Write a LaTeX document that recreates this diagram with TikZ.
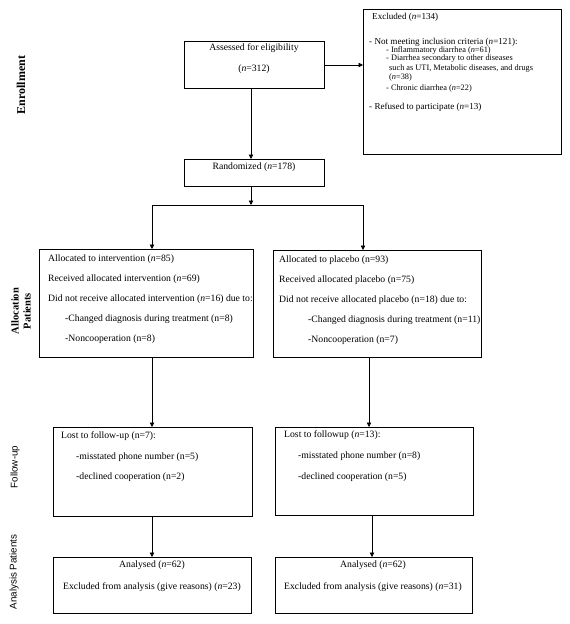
\documentclass[tikz,border=0pt]{standalone}
\usepackage{fontspec}
\setmainfont{Liberation Serif}
\newfontfamily\labsans{Liberation Sans}
\usetikzlibrary{arrows.meta,calc}
\begin{document}
\begin{tikzpicture}[x=1pt,y=-1pt,
  box/.style={draw,line width=0.8pt,inner sep=0pt,anchor=north west},
  txt/.style={inner sep=0pt,anchor=west,font=\fontsize{9.7}{11}\selectfont,text height=7pt,text depth=2.5pt},
  ctxt/.style={txt,anchor=center},
  etxt/.style={txt,font=\fontsize{9.1}{10}\selectfont},
  small/.style={txt,font=\fontsize{8.3}{9}\selectfont,text height=6pt,text depth=2pt},
  arr/.style={line width=0.8pt,-{Triangle[length=4.5pt,width=4.5pt]}},
  ln/.style={line width=0.8pt},
  side/.style={rotate=90,inner sep=0pt,align=center}]
\useasboundingbox (0,0) rectangle (570,624);

% boxes
\node[box,minimum width=140pt,minimum height=47pt] (ass) at (184,41) {};
\node[box,minimum width=198pt,minimum height=145pt] (exc) at (363,9) {};
\node[box,minimum width=140pt,minimum height=27pt] (rand) at (184,159) {};
\node[box,minimum width=214pt,minimum height=108pt] (al) at (39,249) {};
\node[box,minimum width=208pt,minimum height=107pt] (ar) at (273,250) {};
\node[box,minimum width=199pt,minimum height=89pt] (fl) at (53,427) {};
\node[box,minimum width=198pt,minimum height=88pt] (fr) at (275,427) {};
\node[box,minimum width=198pt,minimum height=56pt] (nl) at (53,557) {};
\node[box,minimum width=197pt,minimum height=56pt] (nr) at (275,557) {};

% texts: assessed / randomized
\node[ctxt] (ass1) at (254,48) {Assessed for eligibility};
\node[ctxt] (ass2) at (254,69) {(\textit{n}=312)};
\node[ctxt] (rand1) at (254,167) {Randomized (\textit{n}=178)};

% excluded
\node[etxt] (e1) at (372,17) {Excluded (\textit{n}=134)};
\node[etxt] (e2) at (369,42) {- Not meeting inclusion criteria (\textit{n}=121):};
\node[small] (e3) at (386,50) {- Inflammatory diarrhea (\textit{n}=61)};
\node[small] (e4) at (386,58.5) {- Diarrhea secondary to other diseases};
\node[small] (e5) at (389,68) {such as UTI, Metabolic diseases, and drugs};
\node[small] (e6) at (389,77) {(\textit{n}=38)};
\node[small] (e7) at (386,88) {- Chronic diarrhea (\textit{n}=22)};
\node[etxt] (e8) at (369,107) {- Refused to participate (\textit{n}=13)};

% allocation left
\node[txt] (al1) at (48,259) {Allocated to intervention (\textit{n}=85)};
\node[txt] (al2) at (48,279) {Received allocated intervention (\textit{n}=69)};
\node[txt] (al3) at (48,299) {Did not receive allocated intervention (\textit{n}=16) due to:};
\node[txt] (al4) at (65,319) {-Changed diagnosis during treatment (n=8)};
\node[txt] (al5) at (65,339) {-Noncooperation (n=8)};

% allocation right
\node[txt] (ar1) at (279,260) {Allocated to placebo (n=93)};
\node[txt] (ar2) at (279,280) {Received allocated placebo (n=75)};
\node[txt] (ar3) at (279,300) {Did not receive allocated placebo (n=18) due to:};
\node[txt] (ar4) at (308,320) {-Changed diagnosis during treatment (n=11)};
\node[txt] (ar5) at (308,340) {-Noncooperation (n=7)};

% follow-up
\node[txt] (fl1) at (61,436) {Lost to follow-up (n=7):};
\node[txt] (fl2) at (76,457) {-misstated phone number (n=5)};
\node[txt] (fl3) at (76,477) {-declined cooperation (n=2)};
\node[txt] (fr1) at (284,435) {Lost to followup (\textit{n}=13):};
\node[txt] (fr2) at (298,456) {-misstated phone number (n=8)};
\node[txt] (fr3) at (298,477) {-declined cooperation (n=5)};

% analysis
\node[ctxt] (nl1) at (152,565) {Analysed (\textit{n}=62)};
\node[ctxt] (nl2) at (152,587) {Excluded from analysis (give reasons) (\textit{n}=23)};
\node[ctxt] (nr1) at (373,565) {Analysed (\textit{n}=62)};
\node[ctxt] (nr2) at (373,587) {Excluded from analysis (give reasons) (\textit{n}=31)};

% side labels
\node[side,font=\fontsize{12}{13}\selectfont\bfseries] (s1) at (21,85) {Enrollment};
\node[side,font=\fontsize{10.5}{12}\selectfont\bfseries] (s2) at (21,311) {Allocation\\Patients};
\node[side,font=\fontsize{9.8}{11}\labsans] (s3) at (15,467) {Follow-up};
\node[side,font=\fontsize{9.8}{11}\labsans] (s4) at (14,572) {Analysis Patients};

% connectors
\coordinate (split) at (251,205);
\coordinate (sl) at (152,205);
\coordinate (sr) at (363,205);
\draw[arr] (ass.east |- 0,65) -- (exc.west |- 0,65);
\draw[arr] (ass.south -| split) -- (rand.north -| split);
\draw[arr] (rand.south -| split) -- (split);
\draw[ln] (sl) -- (sr);
\draw[arr] (sl) -- (sl |- al.north);
\draw[arr] (sr) -- (sr |- ar.north);
\coordinate (cl) at (152,0);
\coordinate (cr) at (369,0);
\draw[arr] (al.south -| cl) -- (fl.north -| cl);
\draw[arr] (ar.south -| cr) -- (fr.north -| cr);
\coordinate (dr) at (372,0);
\draw[arr] (fl.south -| cl) -- (nl.north -| cl);
\draw[arr] (fr.south -| dr) -- (nr.north -| dr);
\end{tikzpicture}
\end{document}
